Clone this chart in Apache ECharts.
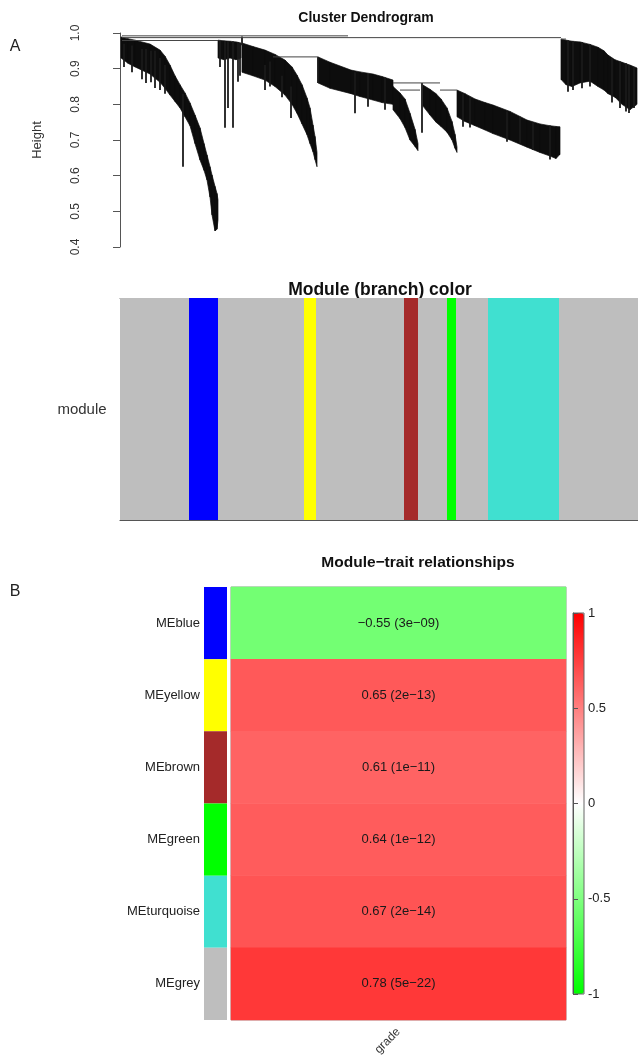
<!DOCTYPE html>
<html>
<head>
<meta charset="utf-8">
<script src="https://cdn.jsdelivr.net/npm/echarts@6/dist/echarts.min.js"></script>
<style>
html,body{margin:0;padding:0;background:#fff;}
#c{width:638px;height:1058px;}
</style>
</head>
<body>
<div id="c"></div>
<script>
// ---------- Panel A: dendrogram (leaf order position, height) ----------
// envelope points: [leafPos, mergeHeight(top), leafHeight(bottom)]
const clusterLeft = [
  [1, 0.989, 0.93], [8, 0.984, 0.915], [15, 0.98, 0.905], [30, 0.969, 0.885], [40, 0.952, 0.862],
  [45, 0.935, 0.845], [50, 0.91, 0.826], [55, 0.88, 0.808], [60, 0.855, 0.79], [65, 0.832, 0.765],
  [70, 0.804, 0.74], [75, 0.77, 0.69], [80, 0.734, 0.644], [84, 0.69, 0.615], [87, 0.658, 0.588],
  [90, 0.625, 0.54], [92, 0.602, 0.49], [95, 0.57, 0.445], [97, 0.55, 0.45], [98, 0.532, 0.476]
];
const clusterSecond = [
  [98, 0.98, 0.93], [104, 0.978, 0.925], [110, 0.977, 0.93], [116, 0.975, 0.925], [121, 0.972, 0.93]
];
const clusterThird = [
  [122, 0.972, 0.89], [133, 0.962, 0.88], [145, 0.952, 0.868], [155, 0.94, 0.85], [165, 0.924, 0.826],
  [172, 0.905, 0.80], [177, 0.882, 0.775], [182, 0.855, 0.745], [187, 0.818, 0.715], [190, 0.79, 0.69],
  [193, 0.742, 0.667], [195, 0.71, 0.645], [197, 0.665, 0.625]
];
const clusterFourthMain = [
  [198, 0.933, 0.86], [210, 0.918, 0.845], [231, 0.896, 0.83], [240, 0.891, 0.822],
  [253, 0.885, 0.812], [262, 0.878, 0.805], [273, 0.868, 0.80]
];
const clusterFourthBrown = [
  [273, 0.85, 0.785], [280, 0.832, 0.76], [285, 0.815, 0.735], [290, 0.775, 0.70], [295, 0.73, 0.682], [298, 0.69, 0.67]
];
const clusterFourthGreen = [
  [303, 0.854, 0.795], [310, 0.842, 0.77], [316, 0.83, 0.75], [321, 0.815, 0.738],
  [327, 0.79, 0.722], [332, 0.752, 0.70], [335, 0.716, 0.677], [337, 0.68, 0.665]
];
const clusterFourthTurquoise = [
  [337, 0.84, 0.765], [345, 0.83, 0.752], [355, 0.815, 0.74], [365, 0.805, 0.728],
  [373, 0.798, 0.718], [390, 0.78, 0.70], [407, 0.756, 0.68], [420, 0.745, 0.665],
  [430, 0.74, 0.655], [436, 0.738, 0.648], [440, 0.737, 0.66]
];
const clusterRight = [
  [441, 0.983, 0.87], [446, 0.98, 0.855], [452, 0.977, 0.85], [460, 0.975, 0.86],
  [470, 0.968, 0.865], [478, 0.96, 0.85], [484, 0.95, 0.84], [488, 0.938, 0.83],
  [495, 0.925, 0.82], [502, 0.918, 0.80], [510, 0.91, 0.785], [517, 0.902, 0.80]
];
// individual branches: [leafPos, top, bottom]
const branchDrops = [
  [4, 0.97, 0.905], [12, 0.965, 0.89], [22, 0.955, 0.87], [26, 0.955, 0.86], [31, 0.95, 0.862],
  [35, 0.95, 0.846], [40, 0.93, 0.84], [45, 0.91, 0.83], [63, 0.83, 0.625],
  [100, 0.978, 0.905], [105, 0.977, 0.734], [108, 0.977, 0.79], [113, 0.976, 0.734], [118, 0.975, 0.863], [120, 0.972, 0.88],
  [122, 0.99, 0.966], [145, 0.91, 0.84], [150, 0.92, 0.85], [162, 0.88, 0.82], [171, 0.85, 0.762],
  [198, 0.933, 0.86], [235, 0.89, 0.775], [248, 0.885, 0.793], [265, 0.875, 0.785], [302, 0.86, 0.72],
  [343, 0.83, 0.737], [350, 0.82, 0.735], [387, 0.78, 0.695], [400, 0.765, 0.69], [413, 0.75, 0.672], [430, 0.74, 0.645],
  [448, 0.98, 0.835], [453, 0.977, 0.84], [462, 0.975, 0.845], [470, 0.968, 0.85], [492, 0.93, 0.805],
  [500, 0.92, 0.79], [506, 0.915, 0.78], [509, 0.91, 0.776], [514, 0.905, 0.79]
];
// horizontal merges: [fromPos, toPos, height]
const merges = [
  [2, 228, 0.992], [2, 441, 0.987], [2, 98, 0.979], [153, 198, 0.933],
  [273, 320, 0.86], [280, 300, 0.84], [320, 337, 0.84], [441, 446, 0.983]
];
const heightTicks = [0.4, 1.0, 0.1];
const leafCount = 518;

// module colour bands along leaf order: [fromPos, toPos]
const moduleBands = [[0,69],[69,98],[98,184],[184,196],[196,284],[284,298],[298,327],[327,336],[336,368],[368,439],[439,518]];
const moduleBandColors = ['grey','blue','grey','yellow','grey','brown','grey','green','grey','turquoise','grey'];

// ---------- Panel B: module-trait relationships ----------
const modules = ['MEblue','MEyellow','MEbrown','MEgreen','MEturquoise','MEgrey'];
const moduleColors = ['blue','yellow','brown','green','turquoise','grey'];
const traits = ['grade'];
const corr = [-0.55, 0.65, 0.61, 0.64, 0.67, 0.78];
const pvals = ['3e\u221209','2e\u221213','1e\u221211','1e\u221212','2e\u221214','5e\u221222'];
const scaleTicks = [-1, 1, 0.5];

const colorHex = {grey:'#bebebe', blue:'#0000ff', yellow:'#ffff00', brown:'#a52a2a', green:'#00ff00', turquoise:'#40e0d0'};
const FONT = '"Liberation Sans", Arial, Helvetica, sans-serif';

function toQuads(env){
  const out = [];
  for (let i = 0; i < env.length - 1; i++) out.push([env[i][0], env[i][1], env[i][2], env[i+1][0], env[i+1][1], env[i+1][2]]);
  return out;
}
const quads = [].concat(
  toQuads(clusterLeft), toQuads(clusterSecond), toQuads(clusterThird), toQuads(clusterFourthMain),
  toQuads(clusterFourthBrown), toQuads(clusterFourthGreen), toQuads(clusterFourthTurquoise), toQuads(clusterRight)
);

const chart = echarts.init(document.getElementById('c'), null, {renderer:'canvas'});
const option = {
  animation: false,
  backgroundColor: '#ffffff',
  textStyle: {fontFamily: FONT},
  grid: [
    {left:120, top:33, width:518, height:214},
    {left:120, top:298, width:518, height:222},
    {left:204, top:587, width:23, height:433},
    {left:231, top:587, width:335, height:433, show:true, borderColor:'#999', borderWidth:1, backgroundColor:'transparent'},
    {left:573, top:613, width:11, height:381, show:true, borderColor:'#666', borderWidth:1, backgroundColor:'transparent', z:10}
  ],
  xAxis: [
    {gridIndex:0, type:'value', min:0, max:leafCount, show:false},
    {gridIndex:1, type:'value', min:0, max:leafCount, position:'bottom', axisLine:{show:true, onZero:false, lineStyle:{color:'#555', width:1.2}}, axisTick:{show:false}, axisLabel:{show:false}, splitLine:{show:false}},
    {gridIndex:1, type:'value', min:0, max:leafCount, position:'top', axisLine:{show:true, onZero:false, lineStyle:{color:'#888', width:1.2}}, axisTick:{show:false}, axisLabel:{show:false}, splitLine:{show:false}},
    {gridIndex:2, type:'value', min:0, max:1, show:false},
    {gridIndex:3, type:'category', data:traits, position:'bottom', axisLine:{show:false}, axisTick:{show:false},
      axisLabel:{rotate:45, fontSize:12, color:'#333', margin:10, fontFamily:FONT}},
    {gridIndex:4, type:'value', min:0, max:1, show:false}
  ],
  yAxis: [
    {gridIndex:0, type:'value', min:heightTicks[0], max:heightTicks[1], interval:heightTicks[2], offset:20,
      axisLine:{show:true, lineStyle:{color:'#555'}}, axisTick:{show:true, length:7, lineStyle:{color:'#555'}},
      axisLabel:{rotate:90, fontSize:12, color:'#333', margin:18, fontFamily:FONT, formatter:v=>v.toFixed(1)},
      splitLine:{show:false}},
    {gridIndex:1, type:'value', min:0, max:1, show:false},
    {gridIndex:2, type:'category', data:modules, inverse:true, axisLine:{show:false}, axisTick:{show:false},
      axisLabel:{fontSize:13, color:'#222', margin:4, fontFamily:FONT}},
    {gridIndex:3, type:'category', data:modules, inverse:true, show:false},
    {gridIndex:4, type:'value', min:scaleTicks[0], max:scaleTicks[1], interval:scaleTicks[2], position:'right', z:10,
      axisLine:{show:true, lineStyle:{color:'#555'}}, axisTick:{show:true, length:5, lineStyle:{color:'#555'}},
      axisLabel:{fontSize:13, color:'#222', margin:4, fontFamily:FONT}, splitLine:{show:false}}
  ],
  visualMap: {
    type:'continuous', min:-1, max:1, seriesIndex:5, orient:'vertical', left:573, top:613,
    itemWidth:11, itemHeight:381, padding:0, showLabel:false, calculable:false, text:null,
    inRange:{color:['#00ff00','#ffffff','#ff0000']}
  },
  series: [
    {type:'custom', xAxisIndex:0, yAxisIndex:0, data:quads, silent:true,
      renderItem:(params, api)=>({type:'polygon', shape:{points:[
        api.coord([api.value(0), api.value(1)]), api.coord([api.value(3), api.value(4)]),
        api.coord([api.value(3), api.value(5)]), api.coord([api.value(0), api.value(2)])]},
        style:{fill:'#0d0d0d', stroke:'#0d0d0d', lineWidth:0.7}})},
    {type:'custom', xAxisIndex:0, yAxisIndex:0, data:branchDrops, silent:true,
      renderItem:(params, api)=>{const a=api.coord([api.value(0), api.value(1)]), b=api.coord([api.value(0), api.value(2)]);
        return {type:'line', shape:{x1:a[0], y1:a[1], x2:b[0], y2:b[1]}, style:{stroke:'#1a1a1a', lineWidth:1.8}};}},
    {type:'custom', xAxisIndex:0, yAxisIndex:0, data:merges, silent:true,
      renderItem:(params, api)=>{const a=api.coord([api.value(0), api.value(2)]), b=api.coord([api.value(1), api.value(2)]);
        return {type:'line', shape:{x1:a[0], y1:a[1], x2:b[0], y2:b[1]}, style:{stroke:'#444', lineWidth:1}};}},
    {type:'custom', xAxisIndex:1, yAxisIndex:1, data:moduleBands, silent:true,
      renderItem:(params, api)=>{const a=api.coord([api.value(0), 1]), b=api.coord([api.value(1), 0]);
        return {type:'rect', shape:{x:a[0], y:a[1], width:b[0]-a[0], height:b[1]-a[1]},
          style:{fill:colorHex[moduleBandColors[params.dataIndex]]}};}},
    {type:'bar', xAxisIndex:3, yAxisIndex:2, silent:true, barWidth:'100%', barCategoryGap:0,
      data: moduleColors.map(c=>({value:1, itemStyle:{color:colorHex[c]}}))},
    {type:'heatmap', xAxisIndex:4, yAxisIndex:3, silent:true,
      data: corr.map((v,i)=>[0, i, v]),
      label:{show:true, fontSize:13, color:'#1a1a1a', fontFamily:FONT,
        formatter:p=>{const v=corr[p.dataIndex]; const s=(v<0?'\u2212':'')+Math.abs(v).toFixed(2); return s+' ('+pvals[p.dataIndex]+')';}},
      emphasis:{disabled:true}}
  ],
  graphic: [
    {type:'text', style:{text:'A', x:15, y:47, align:'center', verticalAlign:'middle', font:'16px '+FONT, fill:'#222'}},
    {type:'text', style:{text:'Cluster Dendrogram', x:366, y:18, align:'center', verticalAlign:'middle', font:'bold 14px '+FONT, fill:'#111'}},
    {type:'text', x:37, y:140, rotation:Math.PI/2, style:{text:'Height', x:0, y:0, align:'center', verticalAlign:'middle', font:'13px '+FONT, fill:'#333'}},
    {type:'text', style:{text:'Module (branch) color', x:380, y:290, align:'center', verticalAlign:'middle', font:'bold 17.5px '+FONT, fill:'#111'}},
    {type:'text', style:{text:'module', x:82, y:410, align:'center', verticalAlign:'middle', font:'15px '+FONT, fill:'#333'}},
    {type:'text', style:{text:'B', x:15, y:592, align:'center', verticalAlign:'middle', font:'16px '+FONT, fill:'#222'}},
    {type:'text', style:{text:'Module\u2212trait relationships', x:418, y:563, align:'center', verticalAlign:'middle', font:'bold 15.5px '+FONT, fill:'#111'}}
  ]
};
chart.setOption(option);
</script>
</body>
</html>
